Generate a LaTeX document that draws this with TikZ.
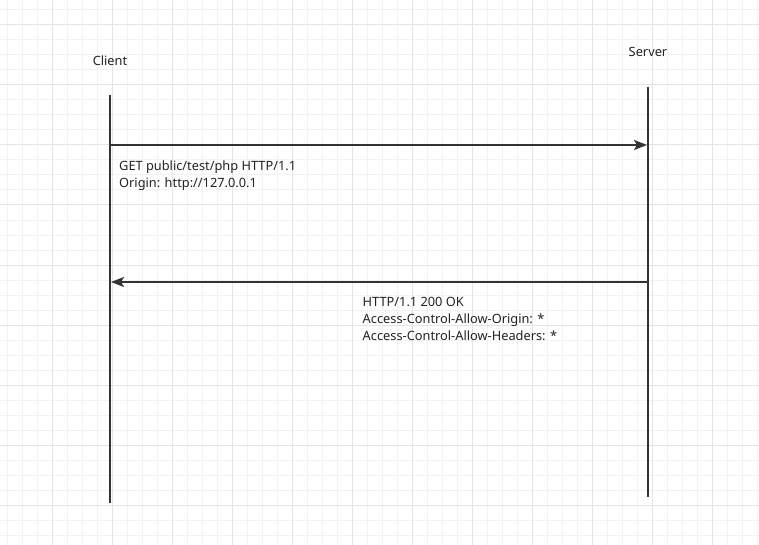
\documentclass[tikz,border=0pt]{standalone}
\usepackage{fontspec}
\setmainfont{Noto Sans}
\usetikzlibrary{arrows.meta}
\definecolor{ink}{HTML}{333333}
\definecolor{textink}{HTML}{222222}
\definecolor{gridminor}{HTML}{F2F2F2}
\definecolor{gridmajor}{HTML}{E4E4E4}
\tikzset{
  lifeline/.style={draw=ink, line width=2pt},
  msg/.style={draw=ink, line width=2pt, -{Stealth[length=13pt,width=10pt,inset=3pt]}},
  actor/.style={font=\fontsize{12.8}{14}\selectfont, text=textink, inner sep=0pt},
  note/.style={font=\fontsize{12.8}{16.6}\selectfont, text=textink, inner sep=0pt, align=left, anchor=north west},
}
\begin{document}
\begin{tikzpicture}[x=1pt,y=-1pt]
\useasboundingbox (0,0) rectangle (759,545);
\fill[white] (0,0) rectangle (759,545);
% grid
\foreach \i in {0,...,50} {\draw[gridminor, line width=1pt] ({7.3+15*\i},0) -- ({7.3+15*\i},545);}
\foreach \j in {0,...,36} {\draw[gridminor, line width=1pt] (0,{10+15*\j}) -- (759,{10+15*\j});}
\foreach \i in {0,...,12} {\draw[gridmajor, line width=1pt] ({52.3+60*\i},0) -- ({52.3+60*\i},545);}
\foreach \j in {0,...,9} {\draw[gridmajor, line width=1pt] (0,{25+60*\j}) -- (759,{25+60*\j});}
% actors
\node[actor] (client) at (110,60.5) {Client};
\node[actor] (server) at (648,52) {Server};
\coordinate (cTop) at (110,95);
\coordinate (cBot) at (110,503);
\coordinate (sTop) at (648,87);
\coordinate (sBot) at (648,497);
\draw[lifeline] (cTop) -- (cBot);
\draw[lifeline] (sTop) -- (sBot);
% messages
\coordinate (m1s) at (111,145);
\coordinate (m1e) at (647,145);
\coordinate (m2s) at (648,282);
\coordinate (m2e) at (111,282);
\draw[msg] (m1s) -- (m1e);
\draw[msg] (m2s) -- (m2e);
\node[note] (req) at (119,161) {GET public/test/php HTTP/1.1\\Origin: http://127.0.0.1};
\node[note] (resp) at (362.5,297.5) {HTTP/1.1 200 OK\\Access-Control-Allow-Origin: *\\Access-Control-Allow-Headers: *};
\end{tikzpicture}
\end{document}
